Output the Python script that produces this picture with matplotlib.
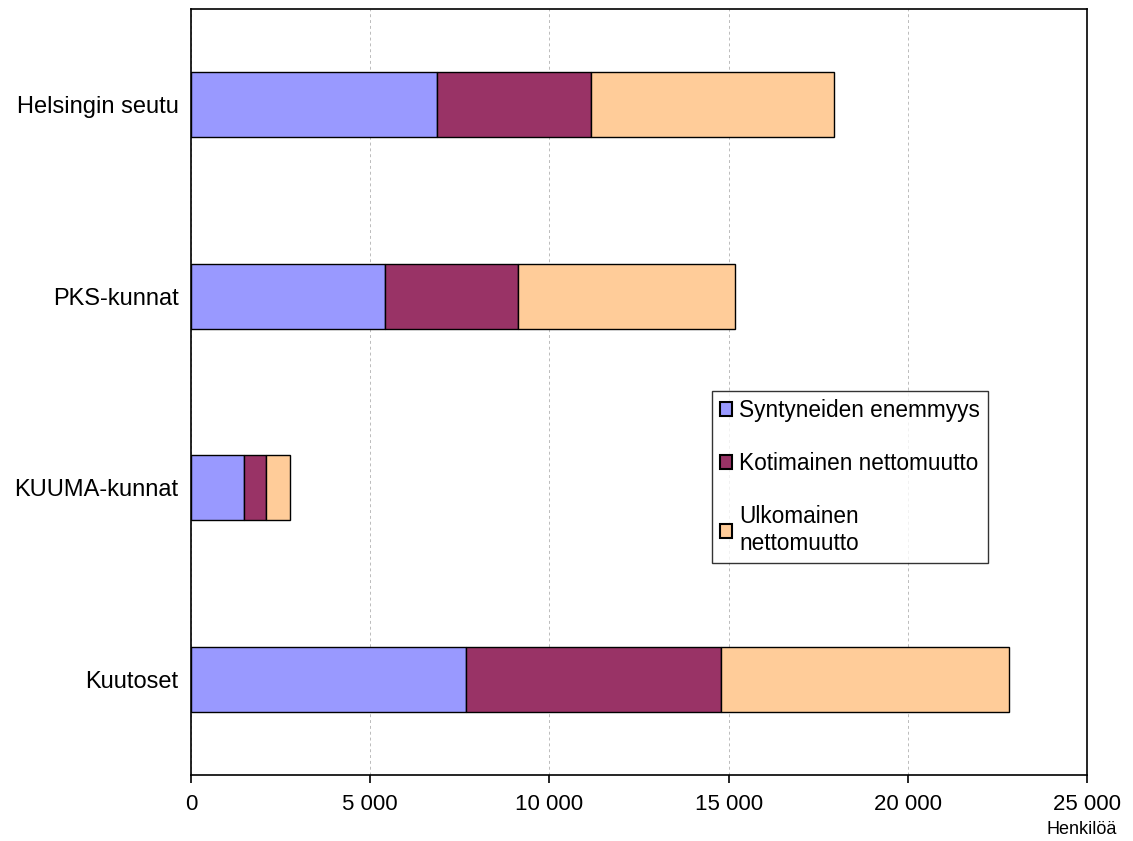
import matplotlib
matplotlib.use('Agg')
import matplotlib.pyplot as plt
import numpy as np

plt.rcParams['font.family'] = ['Liberation Sans', 'DejaVu Sans']

categories = ['Helsingin seutu', 'PKS-kunnat', 'KUUMA-kunnat', 'Kuutoset']
synt = [6870, 5420, 1480, 7670]
kotim = [4300, 3700, 610, 7120]
ulkom = [6770, 6060, 670, 8030]
series_labels = ['Syntyneiden enemmyys', 'Kotimainen nettomuutto', 'Ulkomainen\nnettomuutto']
colors = ['#9999FF', '#993366', '#FFCC99']

fig = plt.figure(figsize=(11.33, 8.41), dpi=100)
ax = fig.add_axes([191/1133, 1 - 775/841, (1087-191)/1133, (775-9)/841])

y = np.arange(len(categories))
left = np.zeros(len(categories))
for vals, lab, col in zip([synt, kotim, ulkom], series_labels, colors):
    ax.barh(y, vals, left=left, height=0.34, color=col, edgecolor='black',
            linewidth=1.0, label=lab, zorder=3)
    left += np.array(vals)

ax.set_ylim(3.5, -0.5)
ax.set_xlim(0, 25000)
ax.set_xticks(range(0, 25001, 5000))
ax.set_xticklabels(['0', '5 000', '10 000', '15 000', '20 000', '25 000'], fontsize=16)
ax.set_yticks(y)
ax.set_yticklabels(categories, fontsize=17)
ax.tick_params(axis='y', length=0, pad=9)
ax.tick_params(axis='x', length=6, width=1.2, pad=8)
ax.xaxis.grid(True, color='#BBBBBB', linestyle=(0, (3, 3)), linewidth=0.7, zorder=0)
for s in ax.spines.values():
    s.set_linewidth(1.2)
    s.set_color('black')

fig.text(1117/1133, 1 - 829/841, 'Henkilöä', ha='right', va='center', fontsize=13)

leg = ax.legend(loc='upper left', bbox_to_anchor=((712-191)/896, (775-391)/766),
                fontsize=16.3, frameon=True, fancybox=False, edgecolor='black',
                handlelength=0.55, handleheight=0.55, handletextpad=0.3,
                labelspacing=1.33, borderpad=0.35, borderaxespad=0)
leg.get_frame().set_linewidth(1.0)
for h in leg.legend_handles:
    h.set_linewidth(1.5)

fig.savefig('out.png', dpi=100)
